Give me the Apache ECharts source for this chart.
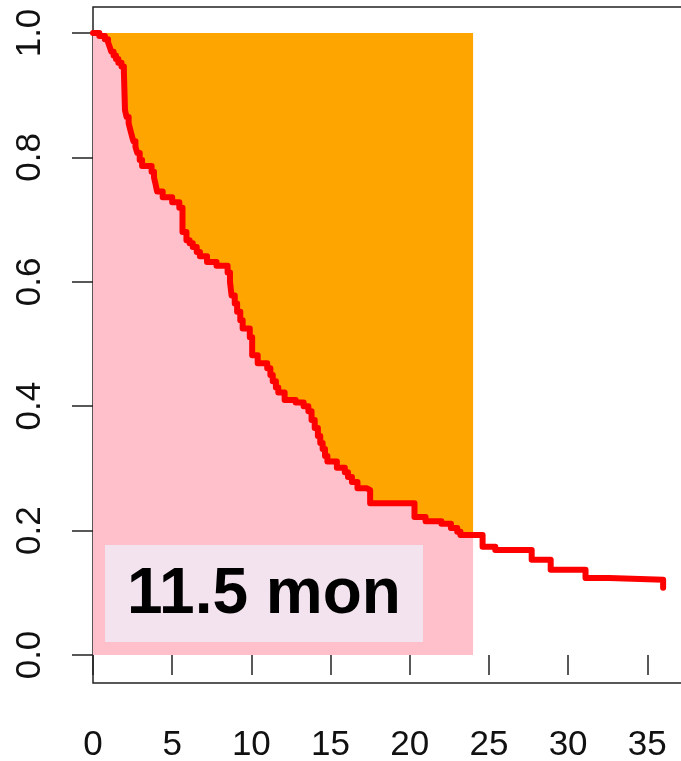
<!DOCTYPE html>
<html>
<head>
<meta charset="utf-8">
<script src="https://cdn.jsdelivr.net/npm/echarts@6/dist/echarts.min.js"></script>
<style>
  html, body { margin: 0; padding: 0; background: #ffffff; }
  #chart { width: 681px; height: 761px; }
</style>
</head>
<body>
<div id="chart"></div>
<script>
// Kaplan-Meier estimate: time (months) of each drop and survival just after it
const eventTimes = [
  0.4, 0.75, 0.95, 1.05, 1.15, 1.3, 1.45, 1.6, 1.8, 1.95,
  2.02, 2.12, 2.25, 2.35, 2.45, 2.55, 2.68, 2.8, 2.95, 3.1,
  3.7, 3.85, 3.95, 4.05, 4.4, 5.0, 5.45, 5.65, 5.9, 6.1,
  6.3, 6.55, 6.75, 7.2, 7.8, 8.5, 8.65, 8.75, 8.95, 9.1,
  9.3, 9.45, 9.9, 10.05, 10.4, 11.0, 11.2, 11.35, 11.55, 11.7,
  12.1, 12.8, 13.3, 13.6, 13.8, 14.0, 14.2, 14.35, 14.5, 14.65,
  14.8, 15.4, 15.9, 16.1, 16.35, 16.7, 17.3, 17.5, 20.3, 21.0,
  22.0, 22.6, 23.0, 23.2, 24.6, 25.4, 27.7, 28.9, 31.1, 32.6,
  36.0
];
const survivalProb = [
  0.995, 0.99, 0.985, 0.978, 0.97, 0.964, 0.958, 0.952, 0.946, 0.938,
  0.876, 0.865, 0.855, 0.845, 0.835, 0.826, 0.817, 0.807, 0.796, 0.786,
  0.777, 0.768, 0.757, 0.745, 0.736, 0.728, 0.719, 0.68, 0.667, 0.662,
  0.656, 0.648, 0.641, 0.632, 0.626, 0.615, 0.6, 0.578, 0.565, 0.552,
  0.538, 0.525, 0.511, 0.482, 0.469, 0.461, 0.45, 0.44, 0.43, 0.422,
  0.41, 0.406, 0.4, 0.392, 0.378, 0.365, 0.352, 0.341, 0.331, 0.32,
  0.311, 0.301, 0.294, 0.286, 0.278, 0.268, 0.265, 0.244, 0.222, 0.215,
  0.211, 0.204, 0.198, 0.193, 0.174, 0.169, 0.153, 0.137, 0.124, 0.121,
  0.108
];
const restrictionTime = 24;           // horizon of the restricted mean
const rmstText = '11.5 mon';
const xTicks = [0, 5, 10, 15, 20, 25, 30, 35];
const yTicks = [0, 0.2, 0.4, 0.6, 0.8, 1.0];

// Step-function vertices of the survival curve
const curve = [[0, 1]];
let prev = 1;
eventTimes.forEach((t, i) => {
  curve.push([t, prev]);
  curve.push([t, survivalProb[i]]);
  prev = survivalProb[i];
});

// Same curve cut at the restriction time
const restricted = curve.filter(p => p[0] <= restrictionTime);
let sAtTau = 1;
eventTimes.forEach((t, i) => { if (t <= restrictionTime) sAtTau = survivalProb[i]; });
restricted.push([restrictionTime, sAtTau]);

const axisFont = { fontFamily: 'Liberation Sans, Arial, sans-serif', fontSize: 35, color: '#111' };

const chart = echarts.init(document.getElementById('chart'), null, { renderer: 'canvas' });
chart.setOption({
  animation: false,
  backgroundColor: '#ffffff',
  grid: {
    left: 93, top: 7, width: 601.8, height: 676,
    outerBoundsMode: 'none', containLabel: false,
    show: true, borderColor: '#222', borderWidth: 1.5, backgroundColor: 'transparent'
  },
  xAxis: {
    type: 'value', min: 0, max: 38,
    axisLine: { show: false },
    splitLine: { show: false },
    axisTick: { show: true, length: 20, customValues: xTicks, lineStyle: { color: '#222', width: 1.5 } },
    axisLabel: Object.assign({ margin: 45, customValues: xTicks }, axisFont)
  },
  yAxis: {
    type: 'value', min: -0.045, max: 1.0418,
    axisLine: { show: false },
    splitLine: { show: false },
    axisTick: { show: true, length: 21, customValues: yTicks, lineStyle: { color: '#222', width: 1.5 } },
    axisLabel: Object.assign({
      margin: 45, rotate: 90, customValues: yTicks,
      formatter: v => v.toFixed(1)
    }, axisFont)
  },
  series: [
    {
      name: 'restricted mean',
      type: 'line', data: restricted, showSymbol: false, silent: true,
      lineStyle: { width: 0 },
      areaStyle: { color: '#FFC0CB', opacity: 1, origin: 0 },
      z: 1
    },
    {
      name: 'lost time',
      type: 'line', data: restricted, showSymbol: false, silent: true,
      lineStyle: { width: 0 },
      areaStyle: { color: '#FFA500', opacity: 1, origin: 1 },
      z: 1
    },
    {
      name: 'survival',
      type: 'line', data: curve, showSymbol: false, silent: true,
      lineStyle: { color: '#FF0000', width: 6, cap: 'round', join: 'round' },
      z: 3
    }
  ],
  graphic: {
    elements: [
      {
        type: 'rect', z: 100, silent: true,
        left: 105, top: 545,
        shape: { width: 318, height: 97 },
        style: { fill: '#F2E3EE' }
      },
      {
        type: 'text', z: 101, silent: true,
        x: 264, y: 595,
        style: {
          text: rmstText, fill: '#000000',
          fontFamily: 'Liberation Sans, Arial, sans-serif',
          fontWeight: 'bold', fontSize: 64,
          align: 'center', verticalAlign: 'middle'
        }
      }
    ]
  }
});
</script>
</body>
</html>
